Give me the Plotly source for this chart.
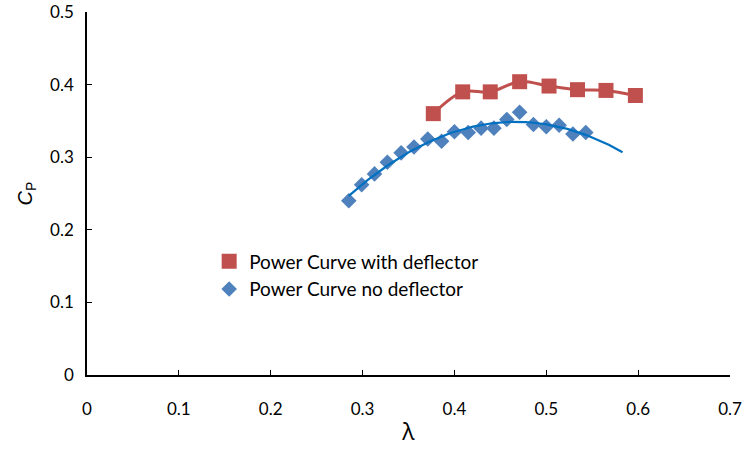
import numpy as np
import plotly.graph_objects as go

# Tip speed ratio (lambda) and power coefficient (Cp) measurements
lam_deflector = [0.377, 0.409, 0.439, 0.471, 0.503, 0.534, 0.565, 0.597]
cp_deflector = [0.360, 0.390, 0.390, 0.404, 0.398, 0.393, 0.392, 0.385]

lam_plain = [0.285, 0.299, 0.313, 0.327, 0.342, 0.356, 0.371, 0.386, 0.400, 0.415,
             0.429, 0.443, 0.457, 0.471, 0.486, 0.500, 0.514, 0.529, 0.543]
cp_plain = [0.240, 0.262, 0.277, 0.293, 0.306, 0.314, 0.325, 0.322, 0.335, 0.334,
            0.340, 0.340, 0.352, 0.362, 0.345, 0.342, 0.344, 0.332, 0.334]

x_ticks = [0, 0.1, 0.2, 0.3, 0.4, 0.5, 0.6, 0.7]
y_ticks = [0, 0.1, 0.2, 0.3, 0.4, 0.5]

RED = "#C0504D"
BLUE = "#4F81BD"
TREND = "#0070C0"
FONT = "Lato"
TITLE_FONT = "Open Sans"

# Second-order polynomial trendline for the no-deflector data, with a short forward forecast
coef = np.polyfit(lam_plain, cp_plain, 2)
lam_fit = np.linspace(min(lam_plain), max(lam_plain) + 0.04, 120)
cp_fit = np.polyval(coef, lam_fit)

fig = go.Figure()

# Smoothed connecting line for the deflector series
fig.add_trace(go.Scatter(
    x=lam_deflector, y=cp_deflector, mode="lines",
    line=dict(color=RED, width=3, shape="spline", smoothing=1.0),
    showlegend=False, hoverinfo="skip",
))
fig.add_trace(go.Scatter(
    x=lam_deflector, y=cp_deflector, mode="markers",
    name="Power Curve with deflector",
    marker=dict(symbol="square", size=15, color=RED),
))
fig.add_trace(go.Scatter(
    x=lam_plain, y=cp_plain, mode="markers",
    name="Power Curve no deflector",
    marker=dict(symbol="diamond", size=12, color=BLUE),
))
fig.add_trace(go.Scatter(
    x=lam_fit, y=cp_fit, mode="lines",
    line=dict(color=TREND, width=2.2),
    showlegend=False, hoverinfo="skip",
))

axis_common = dict(
    showgrid=False, zeroline=False, automargin=False,
    showline=True, linecolor="black", linewidth=1.5,
    ticks="inside", ticklen=5, tickwidth=1.3, tickcolor="black",
    tickfont=dict(family=FONT, size=17, color="black"),
)

fig.update_layout(
    width=747, height=453,
    margin=dict(l=87, r=17, t=12, b=78),
    paper_bgcolor="white", plot_bgcolor="white",
    font=dict(family=FONT, color="black"),
    xaxis=dict(
        range=[0, 0.7], tickvals=x_ticks,
        ticktext=[f"{v:g}" for v in x_ticks],
        ticklabelstandoff=18,
        title=dict(text="λ", font=dict(family=TITLE_FONT, size=23), standoff=6),
        **axis_common,
    ),
    yaxis=dict(
        range=[0, 0.5], tickvals=y_ticks,
        ticktext=[f"{v:g}" for v in y_ticks],
        ticklabelstandoff=8,
        title=dict(
            text="<i>C</i><sub>P</sub>",
            font=dict(family="Liberation Sans", size=20),
            standoff=12,
        ),
        **axis_common,
    ),
    legend=dict(
        x=0.19, y=0.365, xanchor="left", yanchor="top",
        bgcolor="rgba(0,0,0,0)", borderwidth=0,
        font=dict(family=FONT, size=19, color="black"),
        tracegroupgap=0, itemsizing="trace",
    ),
    showlegend=True,
)

fig.write_html("out.html")
